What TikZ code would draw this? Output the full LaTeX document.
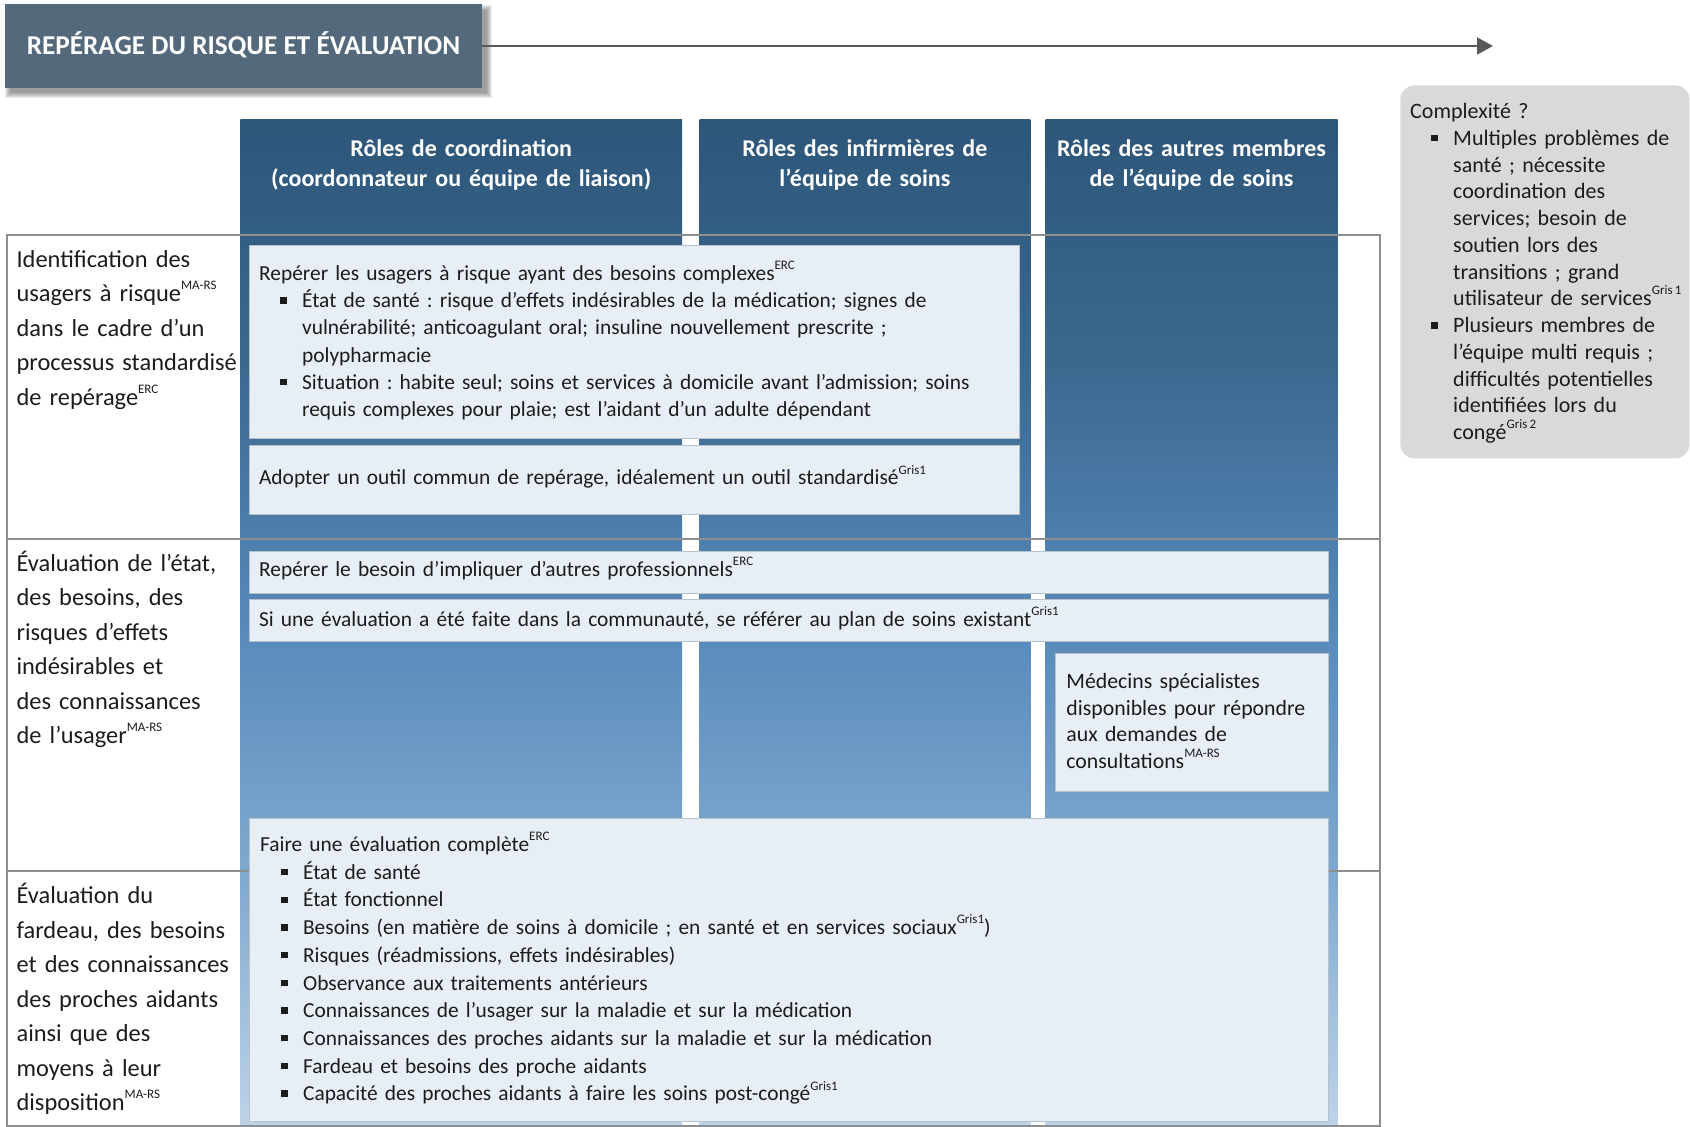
\documentclass[tikz,border=0pt]{standalone}
\usepackage{fontspec}
\setmainfont{Carlito}
\usetikzlibrary{arrows.meta}
\frenchspacing

\definecolor{titlefill}{HTML}{546A7C}
\definecolor{coltop}{HTML}{2D5679}
\definecolor{colupper}{HTML}{3B6990}
\definecolor{colmid}{HTML}{5689BA}
\definecolor{collower}{HTML}{80A9CF}
\definecolor{colbot}{HTML}{BDD3E8}
\definecolor{cellfill}{HTML}{E7EEF5}
\definecolor{cellline}{HTML}{B7C1CA}
\definecolor{gridline}{HTML}{8E8E8E}
\definecolor{sidefill}{HTML}{D9D9D9}
\definecolor{arrowgray}{HTML}{595959}
\definecolor{ink}{HTML}{1C1C1C}

% vertical blue ramp of the role columns (path maps onto 25bp..75bp)
\pgfdeclareverticalshading{rolecolumn}{100bp}{color(0bp)=(colbot); color(25bp)=(colbot);
  color(37.5bp)=(collower); color(50bp)=(colmid); color(62.5bp)=(colupper);
  color(75bp)=(coltop); color(100bp)=(coltop)}

% small raised source tag
\newcommand{\srctag}[1]{\raisebox{0.5em}{\fontsize{6.5pt}{7pt}\selectfont #1}}
% square bullet
\newcommand{\sqbul}{\rule[2pt]{3.2pt}{3.2pt}}
% bulleted paragraph: bullet indented 10.5pt, text hanging at 21.5pt
\newcommand{\bitem}[1]{\par\hangindent=21.5pt\hangafter=1\noindent
  \hspace*{10.5pt}\makebox[11pt][l]{\sqbul}#1\par}

\tikzset{
  cell/.style={draw=cellline, line width=0.5pt, fill=cellfill},
  grid/.style={draw=gridline, line width=1pt},
  celltext/.style={anchor=base west, inner sep=0pt, align=left, text=ink,
    font=\fontsize{10.7pt}{13.6pt}\selectfont},
  rowlabel/.style={anchor=base west, inner sep=0pt, align=left, text=ink,
    text width=118pt, font=\fontsize{12.2pt}{17.25pt}\selectfont},
  header/.style={anchor=base, inner sep=0pt, align=center, text=white,
    text width=215pt, font=\fontsize{12pt}{14.55pt}\selectfont\bfseries},
  rolecol/.style={shading=rolecolumn},
}

\begin{document}
\begin{tikzpicture}[x=0.5pt, y=-0.5pt]
\useasboundingbox (0,0) rectangle (1690,1127);
\fill[white] (0,0) rectangle (1690,1127);

% ---- title banner with soft shadow and timeline arrow
\foreach \s in {0,1,...,5}
  \fill[black, opacity=0.075] (10-\s,10-\s) rectangle (487+\s,93+\s);
\node[fill=titlefill, minimum width=238.5pt, minimum height=42pt, inner sep=0pt,
      text=white, font=\fontsize{13.6pt}{16pt}\selectfont\bfseries,
      text height=8.76pt, text depth=0pt] (title) at (243.5,46)
  {REPÉRAGE DU RISQUE ET ÉVALUATION};
\coordinate (timelineEnd) at (1493,46);
\draw[arrowgray, line width=1pt, -{Triangle[length=8pt, width=8.5pt]}]
  (title.east) -- (timelineEnd);

% ---- complexity side note
\node[fill=sidefill, rounded corners=7pt, minimum width=144.5pt, minimum height=186.5pt,
      anchor=north west, inner sep=0pt] (sidebox) at (1400,85) {};
\node[celltext, text width=150pt, font=\fontsize{11pt}{13.38pt}\selectfont] (sidetext) at (1409.8,118.5)
  {Complexité ?
   \bitem{Multiples problèmes de\newline santé ; nécessite\newline coordination des\newline services; besoin de\newline soutien lors des\newline transitions ; grand\newline utilisateur de services\srctag{Gris\,1}}
   \bitem{Plusieurs membres de\newline l’équipe multi requis ;\newline difficultés potentielles\newline identifiées lors du\newline congé\srctag{Gris\,2}}};

% ---- role columns
\shade[rolecol] (240.3,119.6) rectangle (682.2,1125);
\shade[rolecol] (699.5,119.6) rectangle (1030.4,1125);
\shade[rolecol] (1045.5,119.6) rectangle (1337.6,1125);

\node[header] (hcoord) at (461.2,157) {Rôles de coordination\\(coordonnateur ou équipe de liaison)};
\node[header] (hinf) at (864.9,157) {Rôles des infirmières de\\l’équipe de soins};
\node[header] (hautres) at (1191.5,157) {Rôles des autres membres\\de l’équipe de soins};

% ---- table grid
\draw[grid] (6.5,235) rectangle (1379.6,1126.3);
\draw[grid] (6.5,538.9) -- (1379.6,538.9);
\draw[grid] (6.5,870.9) -- (1379.6,870.9);

% ---- row labels
\node[rowlabel] (rowident) at (16.2,267.5)
  {Identification des\\usagers à risque\srctag{MA-RS}\\dans le cadre d’un\\processus standardisé\\de repérage\srctag{ERC}};
\node[rowlabel] (roweval) at (16.2,571.2)
  {Évaluation de l’état,\\des besoins, des\\risques d’effets\\indésirables et\\des connaissances\\de l’usager\srctag{MA-RS}};
\node[rowlabel] (rowproches) at (16.2,903.5)
  {Évaluation du\\fardeau, des besoins\\et des connaissances\\des proches aidants\\ainsi que des\\moyens à leur\\disposition\srctag{MA-RS}};

% ---- cells
\node[cell, anchor=north west, minimum width=384.75pt, minimum height=96.45pt, inner sep=0pt] (cellA) at (249,244.7) {};
\node[cell, anchor=north west, minimum width=384.75pt, minimum height=34.5pt, inner sep=0pt] (cellB) at (249,445.1) {};
\node[cell, anchor=north west, minimum width=539.4pt, minimum height=21pt, inner sep=0pt] (cellC) at (249,550.8) {};
\node[cell, anchor=north west, minimum width=539.4pt, minimum height=21pt, inner sep=0pt] (cellD) at (249,599.3) {};
\node[cell, anchor=north west, minimum width=136.3pt, minimum height=69pt, inner sep=0pt] (cellE) at (1055.2,653.1) {};
\node[cell, anchor=north west, minimum width=539.4pt, minimum height=151.45pt, inner sep=0pt] (cellF) at (249,818) {};

\node[celltext, text width=372pt] (textA) at (258.7,280.5)
  {Repérer les usagers à risque ayant des besoins complexes\srctag{ERC}
   \bitem{État de santé : risque d’effets indésirables de la médication; signes de\newline vulnérabilité; anticoagulant oral; insuline nouvellement prescrite ;\newline polypharmacie}
   \bitem{Situation : habite seul; soins et services à domicile avant l’admission; soins\newline requis complexes pour plaie; est l’aidant d’un adulte dépendant}};
\node[celltext, text width=372pt] (textB) at (258.7,485)
  {Adopter un outil commun de repérage, idéalement un outil standardisé\srctag{Gris1}};
\node[celltext, text width=530pt] (textC) at (258.7,576.6)
  {Repérer le besoin d’impliquer d’autres professionnels\srctag{ERC}};
\node[celltext, text width=530pt] (textD) at (258.7,626.2)
  {Si une évaluation a été faite dans la communauté, se référer au plan de soins existant\srctag{Gris1}};
\node[celltext, text width=132pt, font=\fontsize{10.9pt}{13.3pt}\selectfont] (textE) at (1066,688.5)
  {Médecins spécialistes\\disponibles pour répondre\\aux demandes de\\consultations\srctag{MA-RS}};
\node[celltext, text width=530pt, font=\fontsize{10.7pt}{13.85pt}\selectfont] (textF) at (259.7,851.5)
  {Faire une évaluation complète\srctag{ERC}
   \bitem{État de santé}
   \bitem{État fonctionnel}
   \bitem{Besoins (en matière de soins à domicile ; en santé et en services sociaux\srctag{Gris1})}
   \bitem{Risques (réadmissions, effets indésirables)}
   \bitem{Observance aux traitements antérieurs}
   \bitem{Connaissances de l’usager sur la maladie et sur la médication}
   \bitem{Connaissances des proches aidants sur la maladie et sur la médication}
   \bitem{Fardeau et besoins des proche aidants}
   \bitem{Capacité des proches aidants à faire les soins post-congé\srctag{Gris1}}};
\end{tikzpicture}
\end{document}
